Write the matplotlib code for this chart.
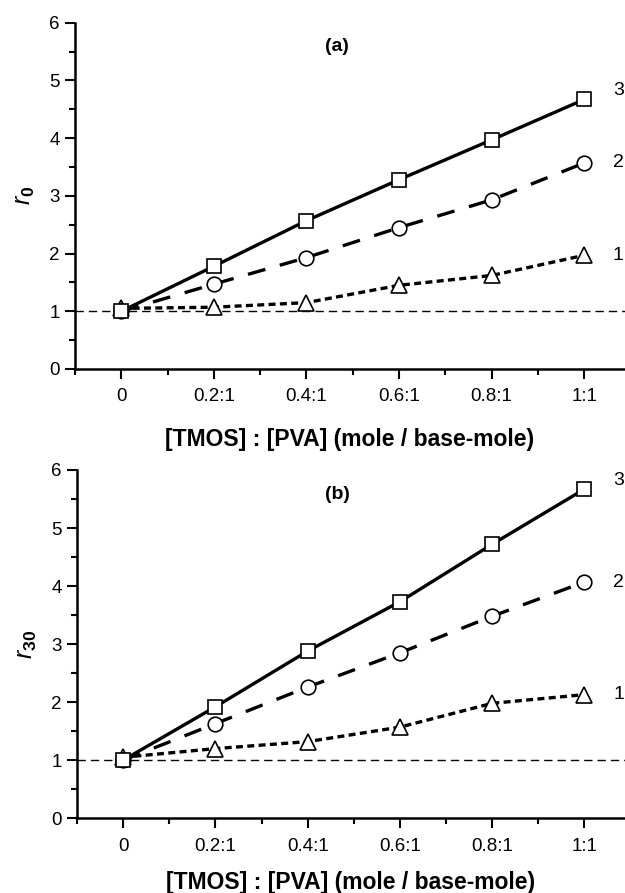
import numpy as np
import matplotlib
matplotlib.use("Agg")
import matplotlib.pyplot as plt
from matplotlib.ticker import MultipleLocator

plt.rcParams['font.family'] = ['Liberation Sans', 'DejaVu Sans']
plt.rcParams['mathtext.fontset'] = 'custom'
plt.rcParams['mathtext.rm'] = 'Liberation Sans'
plt.rcParams['mathtext.it'] = 'Liberation Sans:italic'
plt.rcParams['mathtext.bf'] = 'Liberation Sans:bold'

# molar ratio [TMOS]:[PVA]
ratio = [0.0, 0.2, 0.4, 0.6, 0.8, 1.0]
tick_labels = ['0', '0.2:1', '0.4:1', '0.6:1', '0.8:1', '1:1']

# panel (a): r0
a_curve1 = [1.05, 1.07, 1.15, 1.45, 1.62, 1.97]
a_curve2 = [1.00, 1.47, 1.93, 2.45, 2.93, 3.57]
a_curve3 = [1.00, 1.78, 2.57, 3.28, 3.97, 4.67]

# panel (b): r30
b_curve1 = [1.05, 1.20, 1.32, 1.57, 1.98, 2.13]
b_curve2 = [1.00, 1.63, 2.26, 2.85, 3.48, 4.07]
b_curve3 = [1.00, 1.92, 2.88, 3.73, 4.72, 5.67]

fig = plt.figure(figsize=(6.25, 8.93), dpi=100)
ax_a = fig.add_axes([0.12, 0.5868, 0.88, 0.3878])
ax_b = fig.add_axes([0.1232, 0.0837, 0.8768, 0.39])


def draw_panel(ax, c1, c2, c3, ylab, tag, xpad):
    ax.axhline(1.0, color='black', lw=1.0, ls=(0, (6, 3.6)), zorder=1)
    ax.plot(ratio, c3, color='black', lw=2.4, ls='-',
            marker='s', ms=10, mfc='white', mec='black', mew=1.2, zorder=4)
    ax.plot(ratio, c2, color='black', lw=2.4, ls=(0, (5.4, 4.5)),
            marker='o', ms=10.5, mfc='white', mec='black', mew=1.2, zorder=3)
    ax.plot(ratio, c1, color='black', lw=2.4, ls=(0, (2.1, 1.3)),
            marker='^', ms=11, mfc='white', mec='black', mew=1.2, zorder=2)

    ax.text(1.062, c3[-1] + 0.15, '3', fontsize=14, va='center', ha='left')
    ax.text(1.062, c2[-1], '2', fontsize=14, va='center', ha='left')
    ax.text(1.062, c1[-1], '1', fontsize=14, va='center', ha='left')
    ax.text(0.476, 0.93, tag, transform=ax.transAxes, fontsize=14,
            fontweight='bold', ha='center', va='center')

    ax.set_xlim(-0.1, 1.088)
    ax.set_ylim(0, 6)
    ax.set_xticks(ratio)
    ax.set_xticklabels(tick_labels)
    ax.xaxis.set_minor_locator(MultipleLocator(0.1))
    ax.yaxis.set_major_locator(MultipleLocator(1))
    ax.yaxis.set_minor_locator(MultipleLocator(0.5))
    ax.tick_params(which='major', direction='out', length=7, width=1.5,
                   labelsize=13.5, pad=7)
    ax.tick_params(which='minor', direction='out', length=4.5, width=1.5)
    ax.tick_params(axis='y', pad=4)
    for s in ['top', 'right']:
        ax.spines[s].set_visible(False)
    for s in ['left', 'bottom']:
        ax.spines[s].set_linewidth(1.8)
    ax.set_xlabel('[TMOS] : [PVA] (mole / base-mole)', fontsize=16.5,
                  fontweight='bold', labelpad=xpad)
    ax.set_ylabel(ylab, fontsize=18, labelpad=9)


draw_panel(ax_a, a_curve1, a_curve2, a_curve3, r'$\mathit{r}_{\mathbf{0}}$', '(a)', 16)
draw_panel(ax_b, b_curve1, b_curve2, b_curve3, r'$\mathit{r}_{\mathbf{30}}$', '(b)', 12)

fig.savefig('out.png', dpi=100)
